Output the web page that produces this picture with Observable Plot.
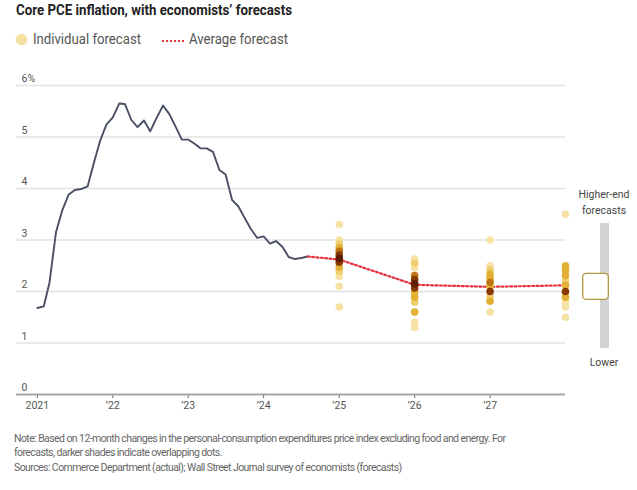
<!DOCTYPE html>
<html>
<head>
<meta charset="utf-8">
<script src="https://cdn.jsdelivr.net/npm/d3@7"></script>
<script src="https://cdn.jsdelivr.net/npm/@observablehq/plot@0.6"></script>
<style>
  body { margin: 0; background: #fff; }
  svg { display: block; }
  #chart svg { overflow: visible; }
</style>
</head>
<body>
<div id="header"></div>
<div id="chart"></div>
<div id="footer"></div>
<script>
// ---------- DATA ----------
const actualStart = "2021-01-01";
const actualEnd = "2024-09-01"; // exclusive
const corePCE = [
  1.68, 1.71, 2.18, 3.15, 3.57, 3.88, 3.97, 3.99, 4.04, 4.49, 4.93, 5.24,
  5.38, 5.65, 5.64, 5.33, 5.19, 5.32, 5.11, 5.37, 5.61, 5.45, 5.20, 4.95,
  4.95, 4.87, 4.78, 4.78, 4.71, 4.36, 4.27, 3.78, 3.65, 3.43, 3.21, 3.04,
  3.07, 2.93, 2.98, 2.87, 2.67, 2.63, 2.65, 2.68
];

const avgDates = ["2024-08-01", "2025-01-01", "2026-01-01", "2027-01-01", "2028-01-01"];
const avgValues = [2.68, 2.62, 2.13, 2.09, 2.12];

const forecastDates = ["2025-01-01", "2026-01-01", "2027-01-01", "2028-01-01"];
const forecastValues = [
  [3.30, 3.00, 2.93, 2.85, 2.78, 2.71, 2.64, 2.57, 2.47, 2.39, 2.29, 2.10, 1.70],
  [2.63, 2.55, 2.46, 2.31, 2.23, 2.15, 2.07, 1.99, 1.89, 1.79, 1.60, 1.40, 1.30],
  [3.00, 2.50, 2.42, 2.34, 2.26, 2.18, 2.10, 2.00, 1.90, 1.81, 1.60],
  [3.50, 2.50, 2.41, 2.31, 2.21, 2.12, 2.00, 1.89, 1.79, 1.70, 1.50]
];
const forecastCounts = [
  [1, 1, 2, 4, 7, 10, 13, 10, 5, 3, 1, 1, 1],
  [1, 2, 1, 8, 10, 13, 10, 5, 4, 3, 4, 1, 1],
  [1, 1, 3, 4, 5, 7, 6, 10, 3, 5, 1],
  [1, 4, 4, 4, 3, 5, 10, 5, 1, 1, 1]
];

const yTicks = [0, 1, 2, 3, 4, 5, 6];
const xTickYears = [2021, 2022, 2023, 2024, 2025, 2026, 2027];

const titleText = "Core PCE inflation, with economists’ forecasts";
const legendDots = "Individual forecast";
const legendLine = "Average forecast";
const noteLines = [
  "Note: Based on 12-month changes in the personal-consumption expenditures price index excluding food and energy. For",
  "forecasts, darker shades indicate overlapping dots.",
  "Sources: Commerce Department (actual); Wall Street Journal survey of economists (forecasts)"
];

// ---------- TABLES ----------
const months = d3.utcMonth.range(new Date(actualStart), new Date(actualEnd));
const actual = months.map((d, i) => ({date: d, value: corePCE[i]}));
const avg = avgDates.map((d, i) => ({date: new Date(d), value: avgValues[i]}));
const forecasts = [];
forecastDates.forEach((d, i) => {
  forecastValues[i].forEach((v, j) => {
    forecasts.push({date: new Date(d), value: v, count: forecastCounts[i][j]});
  });
});
forecasts.sort((a, b) => a.count - b.count);

const FONT = "'Liberation Sans Narrow', Roboto, 'Noto Sans', sans-serif";

// ---------- HEADER ----------
const header = d3.select("#header").append("svg")
  .attr("width", 637).attr("height", 60)
  .style("font-family", FONT);
header.append("text").attr("x", 16).attr("y", 15)
  .attr("font-size", 14).attr("font-weight", 700).attr("fill", "#222")
  .attr("textLength", 276).attr("lengthAdjust", "spacingAndGlyphs")
  .text(titleText);
header.append("circle").attr("cx", 21.5).attr("cy", 39.5).attr("r", 5.8)
  .attr("fill", "#f5e0a0");
header.append("text").attr("x", 33).attr("y", 44)
  .attr("font-size", 14).attr("fill", "#555")
  .attr("textLength", 108).attr("lengthAdjust", "spacingAndGlyphs")
  .text(legendDots);
header.append("line").attr("x1", 162).attr("x2", 186).attr("y1", 41).attr("y2", 41)
  .attr("stroke", "#e5323b").attr("stroke-width", 2).attr("stroke-dasharray", "2,2");
header.append("text").attr("x", 189).attr("y", 44)
  .attr("font-size", 14).attr("fill", "#555")
  .attr("textLength", 99).attr("lengthAdjust", "spacingAndGlyphs")
  .text(legendLine);

// ---------- CHART ----------
const chart = Plot.plot({
  width: 637,
  height: 360,
  marginLeft: 16,
  marginRight: 72,
  marginTop: 25,
  marginBottom: 26,
  style: {fontFamily: FONT, fontSize: "10.5px", color: "#555", background: "transparent"},
  x: {type: "utc", domain: [new Date("2020-09-22"), new Date("2028-01-01")], label: null},
  y: {domain: [0, 6], label: null},
  color: {
    type: "threshold",
    domain: [2, 4, 7, 10, 13],
    range: ["#f6e2a4", "#efcf72", "#e2b034", "#c07512", "#8a3a03", "#5c1d00"]
  },
  marks: [
    Plot.gridY(yTicks.filter(d => d > 0), {stroke: "#e3e3e3", strokeOpacity: 1, strokeWidth: 1.3}),
    Plot.axisY(yTicks, {
      tickSize: 0, tickPadding: -5, textAnchor: "start", dy: -6.5, label: null,
      fill: "#555", fontSize: 10.5,
      tickFormat: d => d === 6 ? "6%" : String(d)
    }),
    Plot.axisX(xTickYears.map(y => new Date(Date.UTC(y, 0, 1))), {
      tickSize: 4, tickPadding: 3, stroke: "#666", fill: "#555", fontSize: 10.5, label: null,
      tickFormat: d => d.getUTCFullYear() === 2021 ? "2021" : "’" + String(d.getUTCFullYear()).slice(2)
    }),
    Plot.ruleY([0], {stroke: "#a6a6a6", strokeWidth: 2}),
    Plot.line(actual, {x: "date", y: "value", stroke: "#4a5066", strokeWidth: 1.9}),
    Plot.line(avg, {x: "date", y: "value", stroke: "#e5323b", strokeWidth: 2.2, strokeDasharray: "2,2.4"}),
    Plot.dot(forecasts, {x: "date", y: "value", r: 3.8, fill: "count", stroke: "none"})
  ]
});
document.getElementById("chart").appendChild(chart);

// right-side range indicator
const svg = d3.select(chart);
const g = svg.append("g").style("font-family", FONT).attr("font-size", 10.5).attr("fill", "#444")
  .attr("text-anchor", "middle");
g.append("text").attr("x", 604).attr("y", 138).text("Higher-end");
g.append("text").attr("x", 604).attr("y", 154).text("forecasts");
g.append("rect").attr("x", 600).attr("y", 163).attr("width", 9).attr("height", 125).attr("fill", "#d3d3d3");
g.append("rect").attr("x", 582.7).attr("y", 213.3).attr("width", 25.6).attr("height", 26).attr("rx", 3.5)
  .attr("fill", "#fff").attr("stroke", "#b5973f").attr("stroke-width", 1.3);
g.append("text").attr("x", 604).attr("y", 305.7).text("Lower");

// ---------- FOOTER ----------
const footer = d3.select("#footer").append("svg")
  .attr("width", 637).attr("height", 70)
  .style("font-family", FONT);
const noteY = [21.5, 36, 51];
const noteNodes = noteLines.map((t, i) =>
  footer.append("text").attr("x", 14).attr("y", noteY[i])
    .attr("font-size", 10.5).attr("fill", "#666")
    .text(t).node()
);
// uniform letter-spacing so the first line spans the reference width
const w1 = noteNodes[0].getComputedTextLength();
const ls = (492 - w1) / (noteLines[0].length - 1);
noteNodes.forEach(n => n.setAttribute("letter-spacing", ls.toFixed(3)));
</script>
</body>
</html>
